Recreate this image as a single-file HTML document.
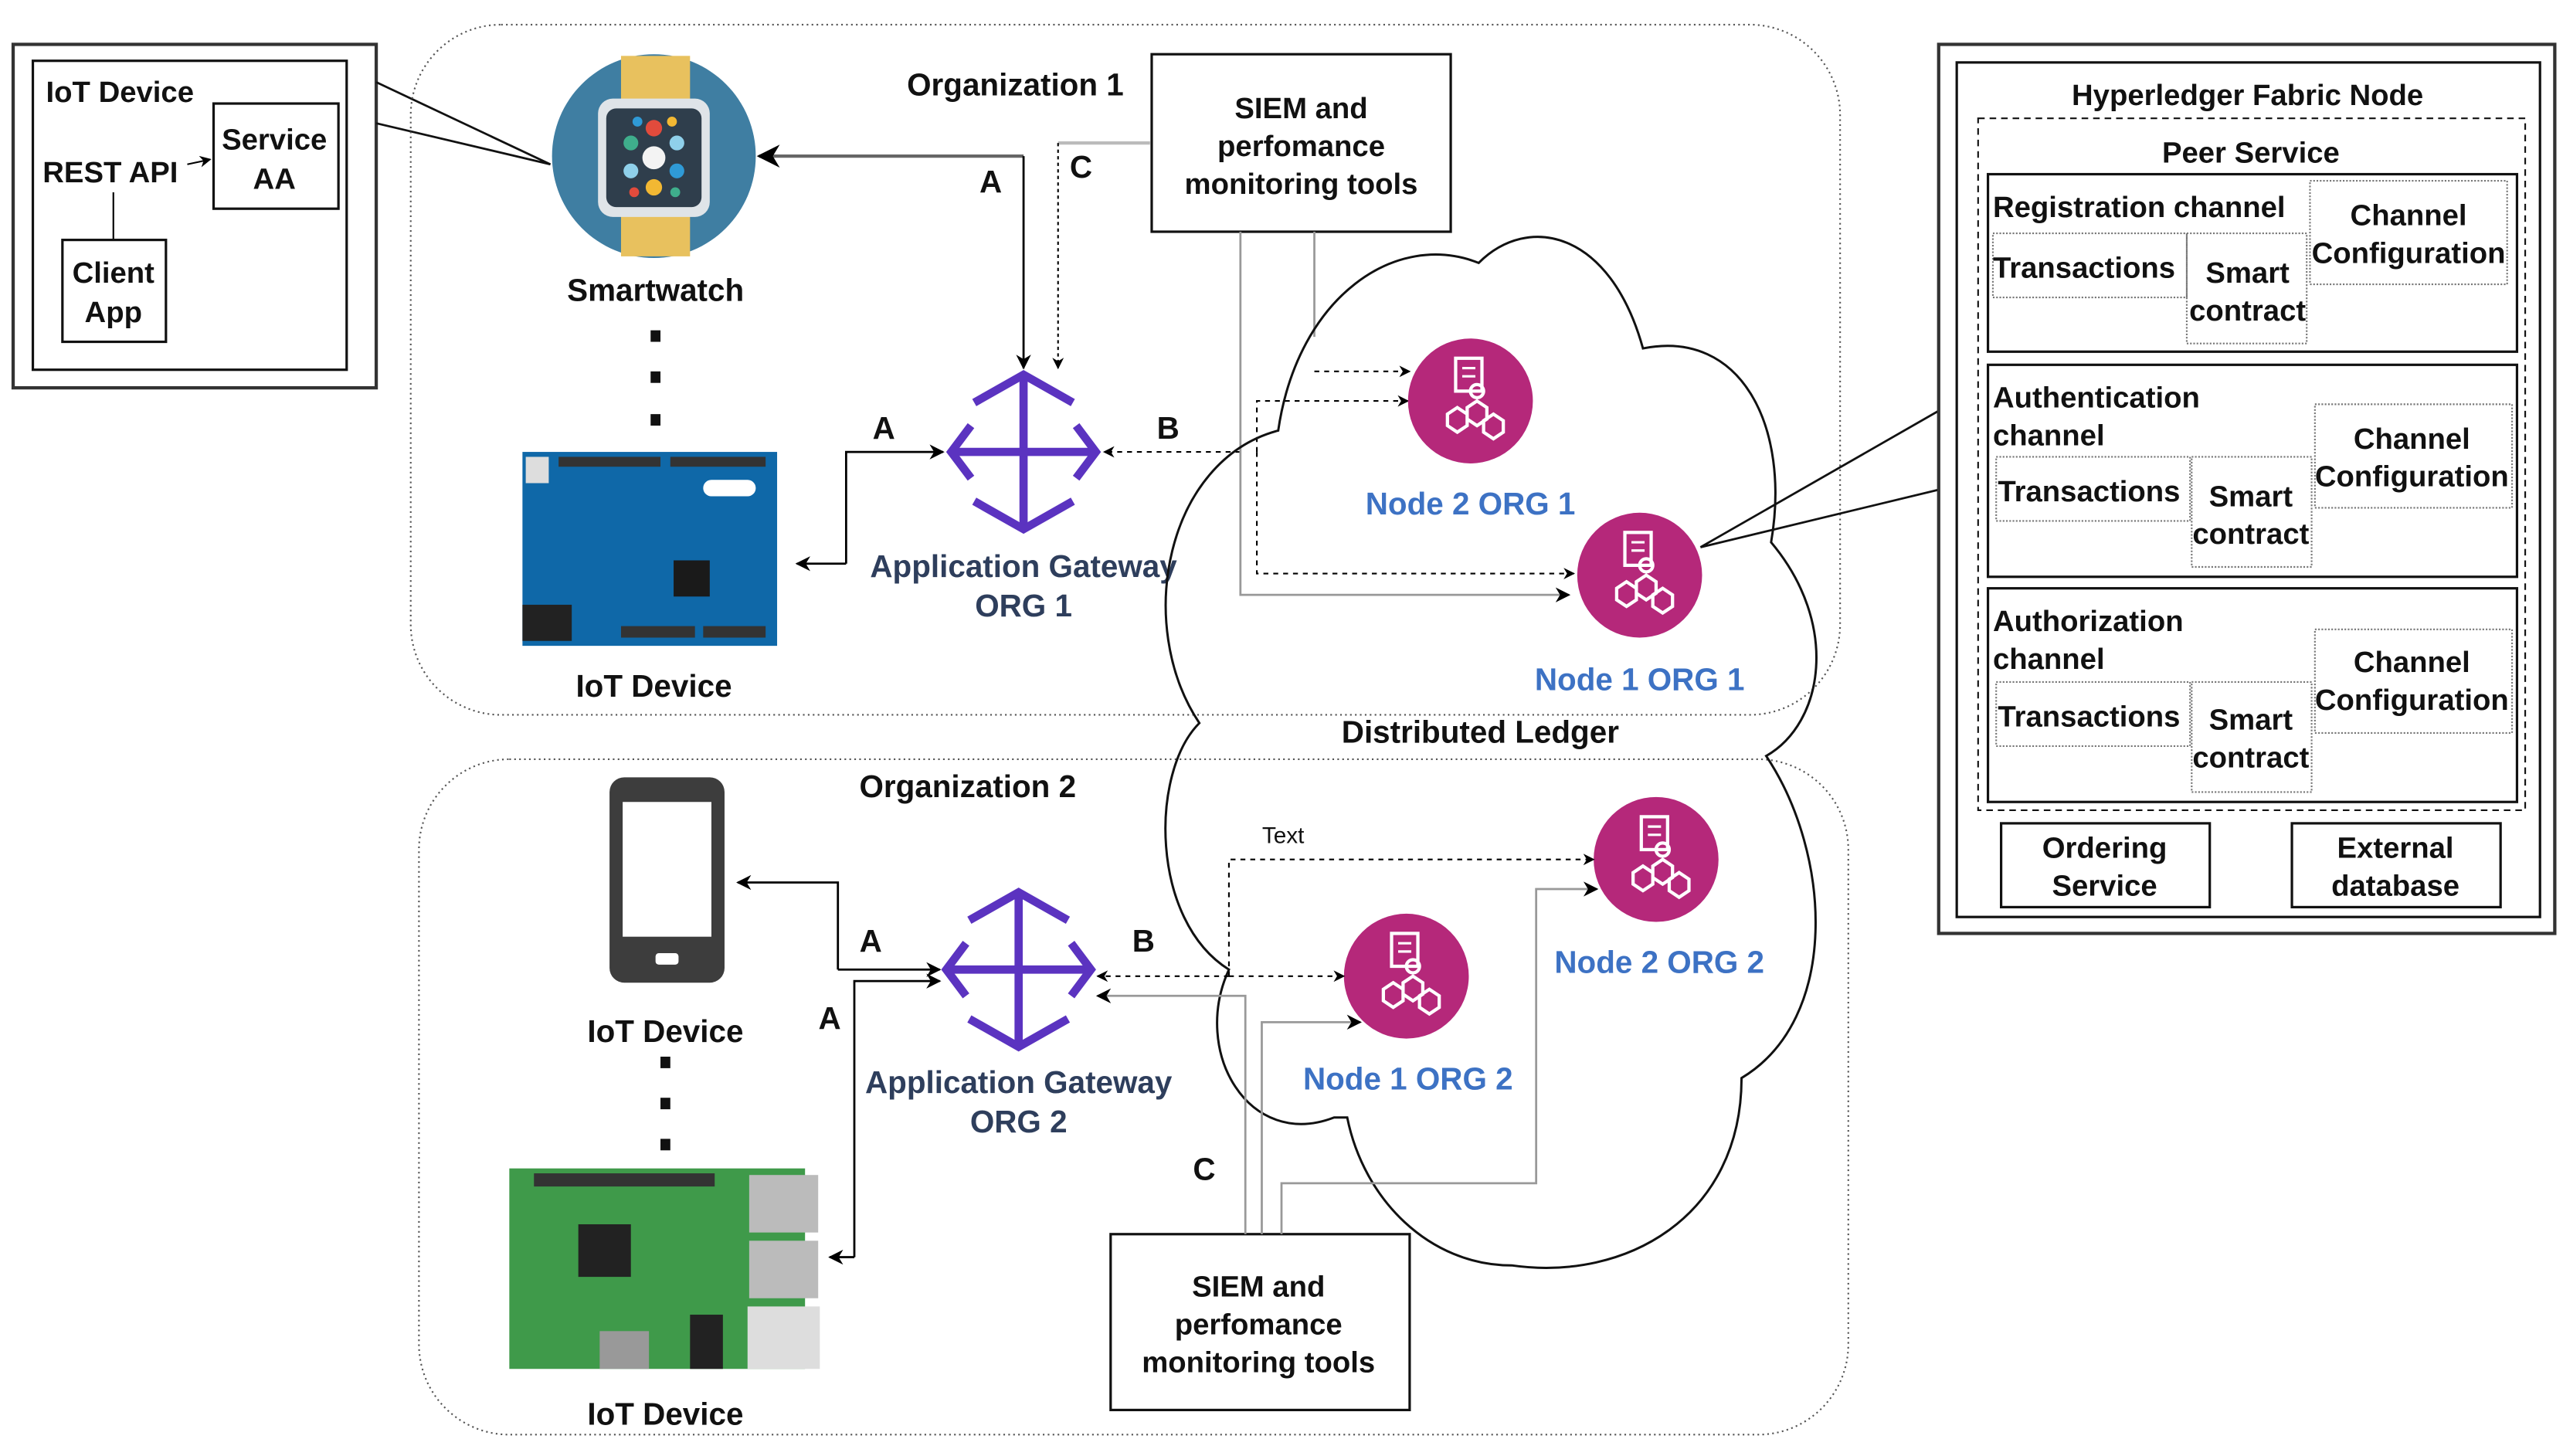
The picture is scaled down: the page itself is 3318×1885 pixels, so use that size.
<!DOCTYPE html>
<html><head><meta charset="utf-8"><style>
html,body{margin:0;padding:0;background:#fff;}
svg{display:block;}
text{font-family:"Liberation Sans",Arial,sans-serif;font-weight:bold;fill:#111;}
.c{text-anchor:middle;}
.b{fill:#3d72c4;}
</style></head><body>
<svg width="3318" height="1885" viewBox="0 0 1560 886" preserveAspectRatio="none" xmlns="http://www.w3.org/2000/svg">
<defs>
<marker id="ar" viewBox="0 0 10 10" refX="9" refY="5" markerWidth="7" markerHeight="7" orient="auto"><path d="M0,0 L10,5 L0,10 L3,5 z" fill="#000"/></marker>
<g id="node">
<circle r="38" fill="#b5287a"/>
<rect x="-9" y="-26" width="16" height="20" fill="none" stroke="#fff" stroke-width="2"/>
<line x1="-5" y1="-20" x2="3" y2="-20" stroke="#fff" stroke-width="1.5"/>
<line x1="-5" y1="-15" x2="3" y2="-15" stroke="#fff" stroke-width="1.5"/>
<circle cx="4" cy="-6" r="4" fill="none" stroke="#fff" stroke-width="2"/>
<path d="M-14,8 l6,-4 l6,4 v7 l-6,4 l-6,-4z M-2,4 l6,-4 l6,4 v7 l-6,4 l-6,-4z M8,12 l6,-4 l6,4 v7 l-6,4 l-6,-4z" fill="none" stroke="#fff" stroke-width="2"/>
</g>
<g id="gw" fill="none" stroke="#5b33c0" stroke-width="5">
<line x1="0" y1="-47" x2="0" y2="47"/>
<line x1="-44" y1="0" x2="44" y2="0"/>
<path d="M-30,-30 L0,-47 L30,-30"/>
<path d="M-30,30 L0,47 L30,30"/>
<path d="M-32,-16 L-44,0 L-32,16"/>
<path d="M32,-16 L44,0 L32,16"/>
</g>
</defs>

<!-- left IoT box -->
<rect x="8" y="27" width="221" height="209" fill="#fff" stroke="#333" stroke-width="2"/>
<rect x="20" y="37" width="191" height="188" fill="#fff" stroke="#111" stroke-width="1.5"/>
<text x="28" y="62" font-size="18">IoT Device</text>
<rect x="130" y="63" width="76" height="64" fill="#fff" stroke="#111" stroke-width="1.5"/>
<text x="167" y="91" class="c" font-size="18">Service</text>
<text x="167" y="115" class="c" font-size="18">AA</text>
<text x="26" y="111" font-size="18">REST API</text>
<line x1="114" y1="100" x2="128" y2="97" stroke="#000" marker-end="url(#ar)"/>
<line x1="69" y1="117" x2="69" y2="146" stroke="#000"/>
<rect x="38" y="146" width="63" height="62" fill="#fff" stroke="#111" stroke-width="1.5"/>
<text x="69" y="172" class="c" font-size="18">Client</text>
<text x="69" y="196" class="c" font-size="18">App</text>
<path d="M229,50 L335,100 L229,75" fill="none" stroke="#111" stroke-width="1.3"/>

<!-- Org 1 -->
<rect x="250" y="15" width="870" height="420" rx="55" fill="none" stroke="#555" stroke-dasharray="1,2"/>
<text x="618" y="58" class="c" font-size="19">Organization 1</text>
<!-- smartwatch -->
<circle cx="398" cy="95" r="62" fill="#3f7ea2"/>
<rect x="378" y="34" width="42" height="122" fill="#e8c15e"/>
<rect x="364" y="60" width="68" height="72" rx="9" fill="#dfe4e8"/>
<rect x="369" y="66" width="58" height="60" rx="6" fill="#2f3e4c"/>
<circle cx="398" cy="96" r="7" fill="#f3f3f3"/>
<circle cx="398" cy="78" r="5" fill="#e24b3c"/><circle cx="412" cy="87" r="4.5" fill="#8fd0ea"/><circle cx="384" cy="87" r="4.5" fill="#3fae8c"/>
<circle cx="384" cy="104" r="4.5" fill="#8fd0ea"/><circle cx="412" cy="104" r="4.5" fill="#2f9ad6"/><circle cx="398" cy="114" r="5" fill="#f2b833"/>
<circle cx="388" cy="74" r="3" fill="#2f9ad6"/><circle cx="409" cy="74" r="3" fill="#f2b833"/>
<circle cx="386" cy="117" r="3" fill="#e24b3c"/><circle cx="411" cy="117" r="3" fill="#3fae8c"/>
<text x="399" y="183" class="c" font-size="19">Smartwatch</text>
<rect x="396" y="201" width="6" height="7" fill="#111"/><rect x="396" y="226" width="6" height="7" fill="#111"/><rect x="396" y="252" width="6" height="7" fill="#111"/>
<!-- arduino -->
<rect x="318" y="275" width="155" height="118" fill="#0f68a8"/>
<rect x="340" y="278" width="62" height="6" fill="#333"/><rect x="408" y="278" width="58" height="6" fill="#333"/>
<rect x="378" y="381" width="45" height="7" fill="#333"/><rect x="428" y="381" width="38" height="7" fill="#333"/>
<rect x="318" y="368" width="30" height="22" fill="#222"/>
<rect x="410" y="341" width="22" height="22" fill="#1a1a1a"/>
<rect x="320" y="278" width="14" height="16" fill="#ddd"/>
<rect x="428" y="292" width="32" height="10" rx="5" fill="#fff"/>
<text x="398" y="424" class="c" font-size="19">IoT Device</text>
<!-- gateway 1 -->
<use href="#gw" x="623" y="275"/>
<text x="623" y="351" class="c" font-size="19" style="fill:#2e3e5c">Application Gateway</text>
<text x="623" y="375" class="c" font-size="19" style="fill:#2e3e5c">ORG 1</text>
<!-- SIEM 1 -->
<rect x="701" y="33" width="182" height="108" fill="#fff" stroke="#111" stroke-width="1.5"/>
<text x="792" y="72" class="c" font-size="18">SIEM and</text>
<text x="792" y="95" class="c" font-size="18">perfomance</text>
<text x="792" y="118" class="c" font-size="18">monitoring tools</text>
<!-- connectors org1 -->
<polyline points="623,95 462,95" fill="none" stroke="#666" stroke-width="2" marker-end="url(#ar)"/>
<polyline points="623,95 623,224" fill="none" stroke="#000" stroke-width="1.3" marker-end="url(#ar)"/>
<text x="603" y="117" class="c" font-size="19">A</text>
<polyline points="700,87 644,87" fill="none" stroke="#bbb" stroke-width="2"/>
<polyline points="644,87 644,224" fill="none" stroke="#000" stroke-dasharray="2,2" marker-end="url(#ar)"/>
<text x="658" y="108" class="c" font-size="19">C</text>
<polyline points="515,343 515,275 574,275" fill="none" stroke="#000" stroke-width="1.3" marker-end="url(#ar)"/>
<line x1="515" y1="343" x2="485" y2="343" stroke="#000" stroke-width="1.3" marker-end="url(#ar)"/>
<text x="538" y="267" class="c" font-size="19">A</text>
<line x1="755" y1="275" x2="672" y2="275" stroke="#000" stroke-dasharray="3,3" marker-end="url(#ar)"/>
<text x="711" y="267" class="c" font-size="19">B</text>
<polyline points="755,141 755,362 955,362" fill="none" stroke="#999" stroke-width="1.3" marker-end="url(#ar)"/>
<polyline points="800,141 800,205" fill="none" stroke="#999" stroke-width="1.3"/>
<polyline points="765,275 765,244 857,244" fill="none" stroke="#000" stroke-dasharray="3,3" marker-end="url(#ar)"/>
<polyline points="765,275 765,349 958,349" fill="none" stroke="#000" stroke-dasharray="3,3" marker-end="url(#ar)"/>
<polyline points="800,226 858,226" fill="none" stroke="#000" stroke-dasharray="3,3" marker-end="url(#ar)"/>

<!-- Org 2 -->
<rect x="255" y="462" width="870" height="411" rx="55" fill="none" stroke="#555" stroke-dasharray="1,2"/>
<text x="589" y="485" class="c" font-size="19">Organization 2</text>

<!-- cloud -->
<path d="M812,680 C760,700 725,640 748,590 C700,560 700,470 730,440 C690,380 710,280 778,262 C790,180 850,140 900,160 C930,130 980,140 1000,212 C1060,200 1090,260 1078,330 C1120,380 1110,440 1075,460 C1115,520 1120,620 1060,656 C1060,740 990,780 920,770 C870,770 830,730 820,680 Z" fill="none" stroke="#111" stroke-width="1.4"/>
<text x="901" y="452" class="c" font-size="19">Distributed Ledger</text>
<use href="#node" x="895" y="244"/>
<text x="895" y="313" class="c b" font-size="19">Node 2 ORG 1</text>
<use href="#node" x="998" y="350"/>
<text x="998" y="420" class="c b" font-size="19">Node 1 ORG 1</text>
<use href="#node" x="1008" y="523"/>
<text x="1010" y="592" class="c b" font-size="19">Node 2 ORG 2</text>
<use href="#node" x="856" y="594"/>
<text x="857" y="663" class="c b" font-size="19">Node 1 ORG 2</text>
<text x="781" y="513" class="c" font-size="14" style="font-weight:normal">Text</text>

<!-- phone -->
<rect x="371" y="473" width="70" height="125" rx="9" fill="#3d3d3d"/>
<rect x="379" y="488" width="54" height="82" fill="#fff"/>
<rect x="399" y="580" width="14" height="7" rx="2" fill="#fff"/>
<text x="405" y="634" class="c" font-size="19">IoT Device</text>
<rect x="402" y="643" width="6" height="7" fill="#111"/><rect x="402" y="668" width="6" height="7" fill="#111"/><rect x="402" y="693" width="6" height="7" fill="#111"/>
<!-- raspberry -->
<rect x="310" y="711" width="180" height="122" fill="#3f9a4a"/>
<rect x="325" y="714" width="110" height="8" fill="#333"/>
<rect x="352" y="745" width="32" height="32" fill="#222"/>
<rect x="456" y="715" width="42" height="35" fill="#bbb"/><rect x="456" y="755" width="42" height="35" fill="#bbb"/><rect x="455" y="795" width="44" height="38" fill="#ddd"/>
<rect x="365" y="810" width="30" height="23" fill="#999"/><rect x="420" y="800" width="20" height="33" fill="#222"/>
<text x="405" y="867" class="c" font-size="19">IoT Device</text>
<!-- gateway 2 -->
<use href="#gw" x="620" y="590"/>
<text x="620" y="665" class="c" font-size="19" style="fill:#2e3e5c">Application Gateway</text>
<text x="620" y="689" class="c" font-size="19" style="fill:#2e3e5c">ORG 2</text>
<!-- SIEM 2 -->
<rect x="676" y="751" width="182" height="107" fill="#fff" stroke="#111" stroke-width="1.5"/>
<text x="766" y="789" class="c" font-size="18">SIEM and</text>
<text x="766" y="812" class="c" font-size="18">perfomance</text>
<text x="766" y="835" class="c" font-size="18">monitoring tools</text>
<!-- connectors org2 -->
<polyline points="510,590 510,537 449,537" fill="none" stroke="#000" stroke-width="1.3" marker-end="url(#ar)"/>
<line x1="510" y1="590" x2="572" y2="590" stroke="#000" stroke-width="1.3" marker-end="url(#ar)"/>
<text x="530" y="579" class="c" font-size="19">A</text>
<polyline points="520,765 520,597 572,597" fill="none" stroke="#000" stroke-width="1.3" marker-end="url(#ar)"/>
<line x1="520" y1="765" x2="505" y2="765" stroke="#000" stroke-width="1.3" marker-end="url(#ar)"/>
<text x="505" y="626" class="c" font-size="19">A</text>
<line x1="748" y1="594" x2="818" y2="594" stroke="#000" stroke-dasharray="3,3" marker-end="url(#ar)"/>
<polyline points="748,594 748,523 970,523" fill="none" stroke="#000" stroke-dasharray="3,3" marker-end="url(#ar)"/>
<line x1="748" y1="594" x2="668" y2="594" stroke="#000" stroke-dasharray="3,3" marker-end="url(#ar)"/>
<text x="696" y="579" class="c" font-size="19">B</text>
<polyline points="758,751 758,606 668,606" fill="none" stroke="#999" stroke-width="1.3" marker-end="url(#ar)"/>
<polyline points="768,751 768,622 828,622" fill="none" stroke="#999" stroke-width="1.3" marker-end="url(#ar)"/>
<polyline points="780,751 780,720 935,720 935,541 972,541" fill="none" stroke="#999" stroke-width="1.3" marker-end="url(#ar)"/>
<text x="733" y="718" class="c" font-size="19">C</text>

<!-- right panel -->
<path d="M1035,333 L1180,250 M1035,333 L1180,298" stroke="#111" stroke-width="1.3"/>
<rect x="1180" y="27" width="375" height="541" fill="#fff" stroke="#333" stroke-width="2"/>
<rect x="1191" y="38" width="355" height="520" fill="#fff" stroke="#111" stroke-width="1.5"/>
<text x="1368" y="64" class="c" font-size="18">Hyperledger Fabric Node</text>
<rect x="1204" y="72" width="333" height="421" fill="none" stroke="#111" stroke-dasharray="4,3"/>
<text x="1370" y="99" class="c" font-size="18">Peer Service</text>

<g>
<rect x="1210" y="106" width="322" height="108" fill="none" stroke="#111" stroke-width="1.5"/>
<text x="1213" y="132" font-size="18">Registration channel</text>
<rect x="1213" y="142" width="118" height="39" fill="none" stroke="#777" stroke-dasharray="1,1"/>
<text x="1213" y="169" font-size="18">Transactions</text>
<rect x="1331" y="142" width="73" height="67" fill="none" stroke="#777" stroke-dasharray="1,1"/>
<text x="1368" y="172" class="c" font-size="18">Smart</text>
<text x="1368" y="195" class="c" font-size="18">contract</text>
<rect x="1406" y="110" width="120" height="63" fill="none" stroke="#777" stroke-dasharray="1,1"/>
<text x="1466" y="137" class="c" font-size="18">Channel</text>
<text x="1466" y="160" class="c" font-size="18">Configuration</text>
</g>
<g>
<rect x="1210" y="222" width="322" height="129" fill="none" stroke="#111" stroke-width="1.5"/>
<text x="1213" y="248" font-size="18">Authentication</text>
<text x="1213" y="271" font-size="18">channel</text>
<rect x="1215" y="278" width="118" height="39" fill="none" stroke="#777" stroke-dasharray="1,1"/>
<text x="1216" y="305" font-size="18">Transactions</text>
<rect x="1334" y="278" width="73" height="67" fill="none" stroke="#777" stroke-dasharray="1,1"/>
<text x="1370" y="308" class="c" font-size="18">Smart</text>
<text x="1370" y="331" class="c" font-size="18">contract</text>
<rect x="1409" y="246" width="120" height="63" fill="none" stroke="#777" stroke-dasharray="1,1"/>
<text x="1468" y="273" class="c" font-size="18">Channel</text>
<text x="1468" y="296" class="c" font-size="18">Configuration</text>
</g>
<g>
<rect x="1210" y="358" width="322" height="130" fill="none" stroke="#111" stroke-width="1.5"/>
<text x="1213" y="384" font-size="18">Authorization</text>
<text x="1213" y="407" font-size="18">channel</text>
<rect x="1215" y="415" width="118" height="39" fill="none" stroke="#777" stroke-dasharray="1,1"/>
<text x="1216" y="442" font-size="18">Transactions</text>
<rect x="1334" y="415" width="73" height="67" fill="none" stroke="#777" stroke-dasharray="1,1"/>
<text x="1370" y="444" class="c" font-size="18">Smart</text>
<text x="1370" y="467" class="c" font-size="18">contract</text>
<rect x="1409" y="383" width="120" height="63" fill="none" stroke="#777" stroke-dasharray="1,1"/>
<text x="1468" y="409" class="c" font-size="18">Channel</text>
<text x="1468" y="432" class="c" font-size="18">Configuration</text>
</g>
<rect x="1218" y="501" width="127" height="51" fill="none" stroke="#111" stroke-width="1.5"/>
<text x="1281" y="522" class="c" font-size="18">Ordering</text>
<text x="1281" y="545" class="c" font-size="18">Service</text>
<rect x="1395" y="501" width="127" height="51" fill="none" stroke="#111" stroke-width="1.5"/>
<text x="1458" y="522" class="c" font-size="18">External</text>
<text x="1458" y="545" class="c" font-size="18">database</text>
</svg>
</body></html>
